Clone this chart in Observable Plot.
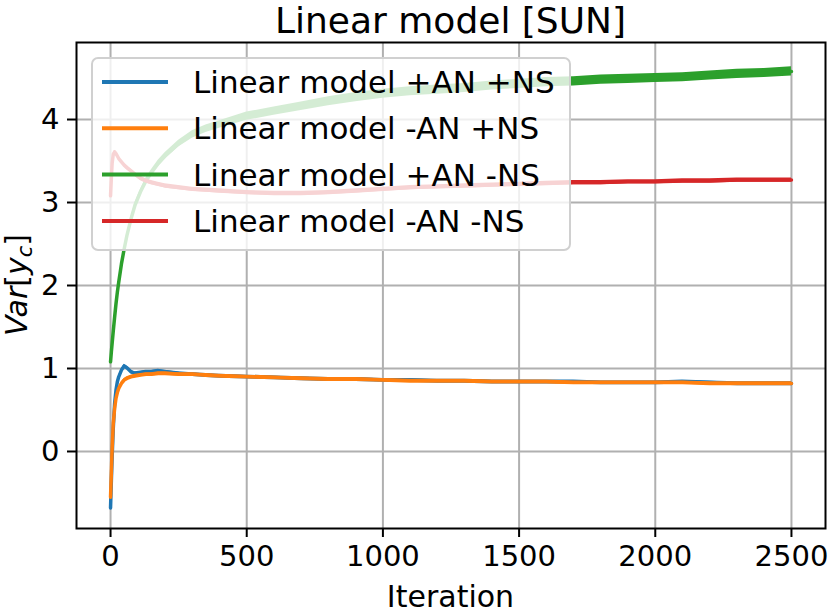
<!DOCTYPE html>
<html><head><meta charset="utf-8">
<script src="https://cdn.jsdelivr.net/npm/d3@7"></script>
<script src="https://cdn.jsdelivr.net/npm/@observablehq/plot@0.6"></script>
<style>body{margin:0;background:#fff;} svg{display:block}</style>
</head><body><div id="chart"></div>
<script>
const iters = [0, 3, 6, 10, 15, 20, 25, 30, 40, 50, 60, 75, 90, 110, 130, 150, 175, 200, 250, 300, 350, 400, 500, 600, 700, 800, 900, 1000, 1100, 1200, 1300, 1400, 1500, 1600, 1700, 1800, 1900, 2000, 2100, 2200, 2300, 2400, 2500];

const blueVals = [-0.68, -0.35, -0.05, 0.28, 0.58, 0.74, 0.84, 0.90, 0.98, 1.03, 1.01, 0.96, 0.94, 0.95, 0.96, 0.96, 0.97, 0.96, 0.94, 0.93, 0.92, 0.91, 0.90, 0.89, 0.88, 0.87, 0.87, 0.86, 0.86, 0.85, 0.85, 0.84, 0.84, 0.84, 0.84, 0.83, 0.83, 0.83, 0.84, 0.83, 0.82, 0.82, 0.82];
const orangeVals = [-0.55, -0.25, 0.05, 0.34, 0.52, 0.64, 0.71, 0.76, 0.82, 0.86, 0.88, 0.90, 0.91, 0.92, 0.93, 0.93, 0.94, 0.94, 0.93, 0.93, 0.92, 0.91, 0.90, 0.89, 0.88, 0.87, 0.87, 0.86, 0.85, 0.85, 0.85, 0.84, 0.84, 0.84, 0.83, 0.83, 0.83, 0.83, 0.83, 0.82, 0.82, 0.82, 0.82];
const greenVals = [1.08, 1.20, 1.31, 1.45, 1.62, 1.78, 1.92, 2.04, 2.26, 2.44, 2.60, 2.80, 2.97, 3.13, 3.26, 3.36, 3.47, 3.56, 3.71, 3.82, 3.89, 3.94, 4.04, 4.10, 4.16, 4.22, 4.27, 4.31, 4.34, 4.36, 4.38, 4.41, 4.43, 4.45, 4.46, 4.48, 4.49, 4.50, 4.51, 4.53, 4.55, 4.56, 4.58];
const redVals = [3.08, 3.30, 3.48, 3.58, 3.61, 3.59, 3.56, 3.53, 3.49, 3.45, 3.42, 3.38, 3.34, 3.29, 3.26, 3.24, 3.22, 3.20, 3.18, 3.16, 3.15, 3.14, 3.12, 3.11, 3.11, 3.12, 3.14, 3.16, 3.18, 3.19, 3.20, 3.21, 3.22, 3.23, 3.24, 3.24, 3.25, 3.25, 3.26, 3.26, 3.27, 3.27, 3.27];

// half-width of the noisy band
const blueNoise = [0.01, 0.01, 0.01, 0.01, 0.01, 0.015, 0.015, 0.015, 0.02, 0.02, 0.02, 0.02, 0.02, 0.02, 0.02, 0.02, 0.02, 0.02, 0.02, 0.02, 0.02, 0.02, 0.02, 0.02, 0.02, 0.02, 0.02, 0.02, 0.02, 0.02, 0.02, 0.02, 0.02, 0.02, 0.02, 0.02, 0.02, 0.02, 0.02, 0.02, 0.02, 0.02, 0.02];
const orangeNoise = blueNoise;
const greenNoise = [0.015, 0.015, 0.015, 0.015, 0.015, 0.015, 0.015, 0.015, 0.02, 0.02, 0.025, 0.025, 0.03, 0.03, 0.035, 0.035, 0.04, 0.04, 0.04, 0.045, 0.045, 0.045, 0.05, 0.05, 0.05, 0.055, 0.055, 0.055, 0.055, 0.055, 0.055, 0.055, 0.055, 0.055, 0.055, 0.055, 0.055, 0.055, 0.055, 0.055, 0.055, 0.055, 0.055];
const redNoise = [0.015, 0.015, 0.015, 0.015, 0.02, 0.02, 0.02, 0.02, 0.02, 0.02, 0.025, 0.025, 0.025, 0.025, 0.025, 0.025, 0.025, 0.025, 0.025, 0.025, 0.025, 0.025, 0.025, 0.025, 0.025, 0.025, 0.025, 0.025, 0.025, 0.025, 0.025, 0.025, 0.025, 0.025, 0.025, 0.025, 0.025, 0.025, 0.025, 0.025, 0.025, 0.025, 0.025];

const seriesNames = ["Linear model +AN +NS", "Linear model -AN +NS", "Linear model +AN -NS", "Linear model -AN -NS"];
const seriesColors = ["#1f77b4", "#ff7f0e", "#2ca02c", "#d62728"];
const seriesVals = [blueVals, orangeVals, greenVals, redVals];
const seriesNoise = [blueNoise, orangeNoise, greenNoise, redNoise];

const xTicks = [0, 500, 1000, 1500, 2000, 2500];
const yTicks = [0, 1, 2, 3, 4];
const titleText = "Linear model [SUN]";
const xLabel = "Iteration";

const W = 831, H = 614, mL = 76, mR = 6, mT = 42, mB = 86;

const tables = seriesNames.map((name, k) => iters.map((it, i) => ({
  it, v: seriesVals[k][i], lo: seriesVals[k][i] - seriesNoise[k][i], hi: seriesVals[k][i] + seriesNoise[k][i]
})));

const plot = Plot.plot({
  width: W, height: H,
  marginLeft: mL, marginRight: mR, marginTop: mT, marginBottom: mB,
  style: {fontFamily: "DejaVu Sans", fontSize: "29px", color: "black", background: "white", overflow: "visible"},
  x: {domain: [-125, 2625]},
  y: {domain: [-0.928, 4.928]},
  marks: [
    Plot.gridX(xTicks, {stroke: "#b0b0b0", strokeOpacity: 1, strokeWidth: 2}),
    Plot.gridY(yTicks, {stroke: "#b0b0b0", strokeOpacity: 1, strokeWidth: 2}),
    ...tables.flatMap((t, k) => [
      Plot.areaY(t, {x: "it", y1: "lo", y2: "hi", fill: seriesColors[k], fillOpacity: 1}),
      Plot.lineY(t, {x: "it", y: "v", stroke: seriesColors[k], strokeWidth: 3.5})
    ]),
    Plot.frame({stroke: "black", strokeWidth: 2}),
    Plot.axisX(xTicks, {tickSize: 9, tickPadding: 8, fontSize: 29, strokeWidth: 2, label: null, tickFormat: d => String(d)}),
    Plot.axisY(yTicks, {tickSize: 9, tickPadding: 8, fontSize: 29, strokeWidth: 2, label: null, tickFormat: d => String(d)})
  ]
});
document.getElementById("chart").appendChild(plot);

const svg = d3.select(plot);
// title
svg.append("text").attr("x", (mL + W - mR) / 2).attr("y", 33)
  .attr("text-anchor", "middle").attr("font-size", 36).attr("fill", "black").text(titleText);
// x label
svg.append("text").attr("x", (mL + W - mR) / 2).attr("y", 607)
  .attr("text-anchor", "middle").attr("font-size", 30).attr("fill", "black").text(xLabel);
// y label: $Var[y_c]$
const cy = (mT + H - mB) / 2;
const yl = svg.append("text").attr("transform", `translate(27,${cy}) rotate(-90)`)
  .attr("text-anchor", "middle").attr("font-size", 30).attr("fill", "black");
yl.append("tspan").attr("font-style", "italic").text("Var");
yl.append("tspan").text("[");
yl.append("tspan").attr("font-style", "italic").text("y");
yl.append("tspan").attr("font-style", "italic").attr("font-size", 21).attr("dy", 5).text("c");
yl.append("tspan").attr("dy", -5).text("]");

// legend
const lg = svg.append("g");
const lx = mL + 16, ly = mT + 16, lw = 478, lh = 192;
lg.append("rect").attr("x", lx).attr("y", ly).attr("width", lw).attr("height", lh).attr("rx", 6)
  .attr("fill", "white").attr("fill-opacity", 0.8).attr("stroke", "#d0d0d0").attr("stroke-width", 2);
seriesNames.forEach((name, k) => {
  const ry = ly + 24 + k * 46.3;
  lg.append("line").attr("x1", lx + 10).attr("x2", lx + 76).attr("y1", ry).attr("y2", ry)
    .attr("stroke", seriesColors[k]).attr("stroke-width", 4);
  lg.append("text").attr("x", lx + 101).attr("y", ry).attr("dy", "0.36em")
    .attr("text-anchor", "start").attr("font-size", 31).attr("fill", "black").text(name);
});
</script></body></html>
